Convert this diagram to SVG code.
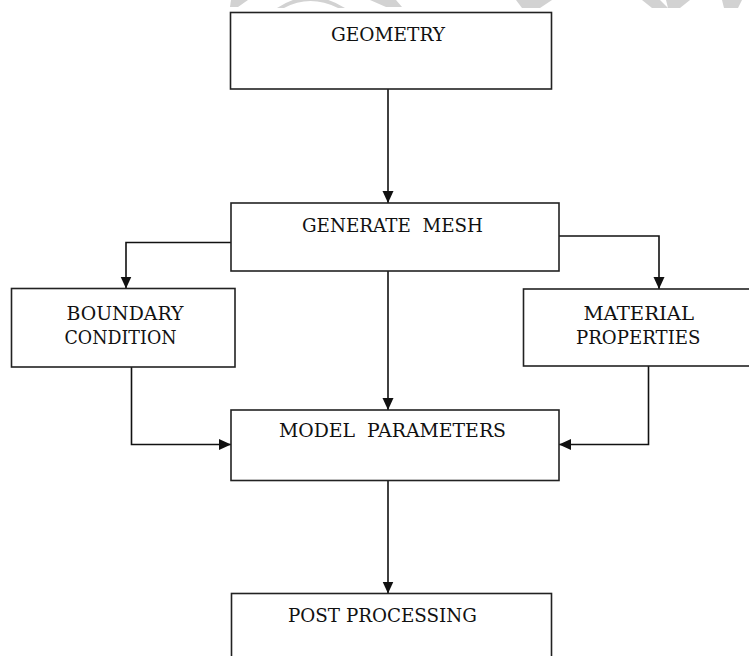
<svg xmlns="http://www.w3.org/2000/svg" width="749" height="656" viewBox="0 0 749 656">
<style>
.box{fill:#fff;stroke:#222;stroke-width:1.6}
.lbl{font-family:"DejaVu Serif","Liberation Serif",serif;font-size:18.5px;fill:#111;text-anchor:start}
.con{fill:none;stroke:#111;stroke-width:1.6}
.wm{fill:#d2d2d2}
</style>
<defs>
<marker id="ah" viewBox="0 0 12 12" refX="12" refY="6" markerWidth="12" markerHeight="12" markerUnits="userSpaceOnUse" orient="auto">
<path d="M0,0.5 L12,6 L0,11.5 Z" fill="#111"/>
</marker>
</defs>
<rect width="749" height="656" fill="#fff"/>
<g id="watermark">
<polygon class="wm" points="231,0 248,0 238,7 230,7"/>
<path class="wm" d="M277,8 Q310,-14 345,8 L338,8 Q310,-6 284,8 Z"/>
<polygon class="wm" points="370,0 396,0 402,7 386,7"/>
<polygon class="wm" points="516,0 552,0 540,8 522,8"/>
<polygon class="wm" points="642,0 660,0 668,8 652,8"/>
<polygon class="wm" points="666,0 690,0 680,8 668,8"/>
<polygon class="wm" points="722,0 742,0 738,8 724,8"/>
</g>
<g id="connectors">
<path class="con" d="M388,89 V203" marker-end="url(#ah)"/>
<path class="con" d="M231,242.5 H126 V288.5" marker-end="url(#ah)"/>
<path class="con" d="M559,236 H659 V289" marker-end="url(#ah)"/>
<path class="con" d="M388,271 V410" marker-end="url(#ah)"/>
<path class="con" d="M131.5,367 V444.5 H231" marker-end="url(#ah)"/>
<path class="con" d="M648.5,366 V444.5 H559" marker-end="url(#ah)"/>
<path class="con" d="M388,480.5 V593.5" marker-end="url(#ah)"/>
</g>
<g id="geometry">
<rect class="box" x="230.5" y="12.5" width="321" height="76.5"/>
<text class="lbl" x="331" y="40.5" textLength="114" lengthAdjust="spacingAndGlyphs">GEOMETRY</text>
</g>
<g id="generate-mesh">
<rect class="box" x="231" y="203" width="328" height="68"/>
<text class="lbl" x="302" y="231.5" textLength="181" lengthAdjust="spacingAndGlyphs" xml:space="preserve">GENERATE  MESH</text>
</g>
<g id="boundary-condition">
<rect class="box" x="11.5" y="288.5" width="223.5" height="78.5"/>
<text class="lbl" x="66.5" y="320" textLength="117" lengthAdjust="spacingAndGlyphs">BOUNDARY</text>
<text class="lbl" x="64.5" y="344" textLength="112" lengthAdjust="spacingAndGlyphs">CONDITION</text>
</g>
<g id="material-properties">
<rect class="box" x="523.5" y="289" width="240" height="77"/>
<text class="lbl" x="583.5" y="320" textLength="110.5" lengthAdjust="spacingAndGlyphs">MATERIAL</text>
<text class="lbl" x="576" y="343.5" textLength="124.5" lengthAdjust="spacingAndGlyphs">PROPERTIES</text>
</g>
<g id="model-parameters">
<rect class="box" x="231" y="410" width="328" height="70.5"/>
<text class="lbl" x="279" y="436.5" textLength="227" lengthAdjust="spacingAndGlyphs" xml:space="preserve">MODEL  PARAMETERS</text>
</g>
<g id="post-processing">
<rect class="box" x="231.5" y="593.5" width="320" height="80"/>
<text class="lbl" x="288" y="621.5" textLength="189" lengthAdjust="spacingAndGlyphs">POST PROCESSING</text>
</g>
</svg>
